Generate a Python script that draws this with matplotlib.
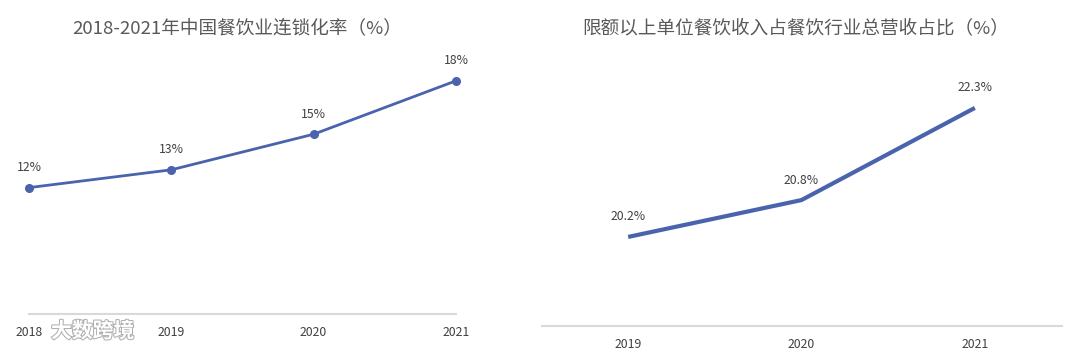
import matplotlib.pyplot as plt
import matplotlib.patheffects as pe

plt.rcParams['font.family'] = ['Noto Sans CJK SC', 'DejaVu Sans']

# left chart data
years_a = ['2018', '2019', '2020', '2021']
chain_rate = [12, 13, 15, 18]
labels_a = ['12%', '13%', '15%', '18%']

# right chart data
years_b = ['2019', '2020', '2021']
share = [20.2, 20.8, 22.3]
labels_b = ['20.2%', '20.8%', '22.3%']

line_c = '#4a63ad'
text_c = '#404040'
title_c = '#595959'
axis_c = '#d9d9d9'

fig = plt.figure(figsize=(10.8, 3.5), dpi=100)

# ---- left: chain rate
ax1 = fig.add_axes([29/1080, 36/350, 427/1080, 0.768])
x1 = range(len(years_a))
ax1.plot(x1, chain_rate, color=line_c, lw=2, marker='o', ms=5.5, clip_on=False)
for x, y, s in zip(x1, chain_rate, labels_a):
    ax1.annotate(s, (x, y), xytext=(0, 20), textcoords='offset pixels',
                 ha='center', va='center', fontsize=8.8, color=text_c)
ax1.set_xlim(0, 3)
ax1.set_ylim(4.9, 20)
ax1.set_xticks(list(x1))
ax1.set_xticklabels(years_a)

# ---- right: share of revenue above designated size
ax2 = fig.add_axes([541.5/1080, 24/350, 520/1080, 0.76])
x2 = range(len(years_b))
ax2.plot(x2, share, color=line_c, lw=3, solid_capstyle='butt')
for x, y, s in zip(x2, share, labels_b):
    ax2.annotate(s, (x, y), xytext=(0, 20), textcoords='offset pixels',
                 ha='center', va='center', fontsize=8.8, color=text_c)
ax2.set_xlim(-0.5, 2.5)
ax2.set_ylim(18.75, 23.08)
ax2.set_xticks(list(x2))
ax2.set_xticklabels(years_b)

for ax in (ax1, ax2):
    for side in ('top', 'right', 'left'):
        ax.spines[side].set_visible(False)
    ax.spines['bottom'].set_color(axis_c)
    ax.spines['bottom'].set_linewidth(1.5)
    ax.set_yticks([])
    ax.tick_params(axis='x', length=0, pad=9, labelsize=8.8, labelcolor=text_c)
    ax.patch.set_alpha(0)

fig.text(237/1080, 1 - 28/350, '2018-2021年中国餐饮业连锁化率（%）',
         ha='center', va='center', fontsize=13.4, color=title_c)
fig.text(796/1080, 1 - 28/350, '限额以上单位餐饮收入占餐饮行业总营收占比（%）',
         ha='center', va='center', fontsize=13.4, color=title_c)

# watermark
fig.text(51/1080, 1 - 331/350, '大数跨境', ha='left', va='center', fontsize=15,
         color='white', fontweight='bold',
         path_effects=[pe.withStroke(linewidth=1.5, foreground='#b0b0b0')])

fig.savefig('out.png', dpi=100, facecolor='white')
